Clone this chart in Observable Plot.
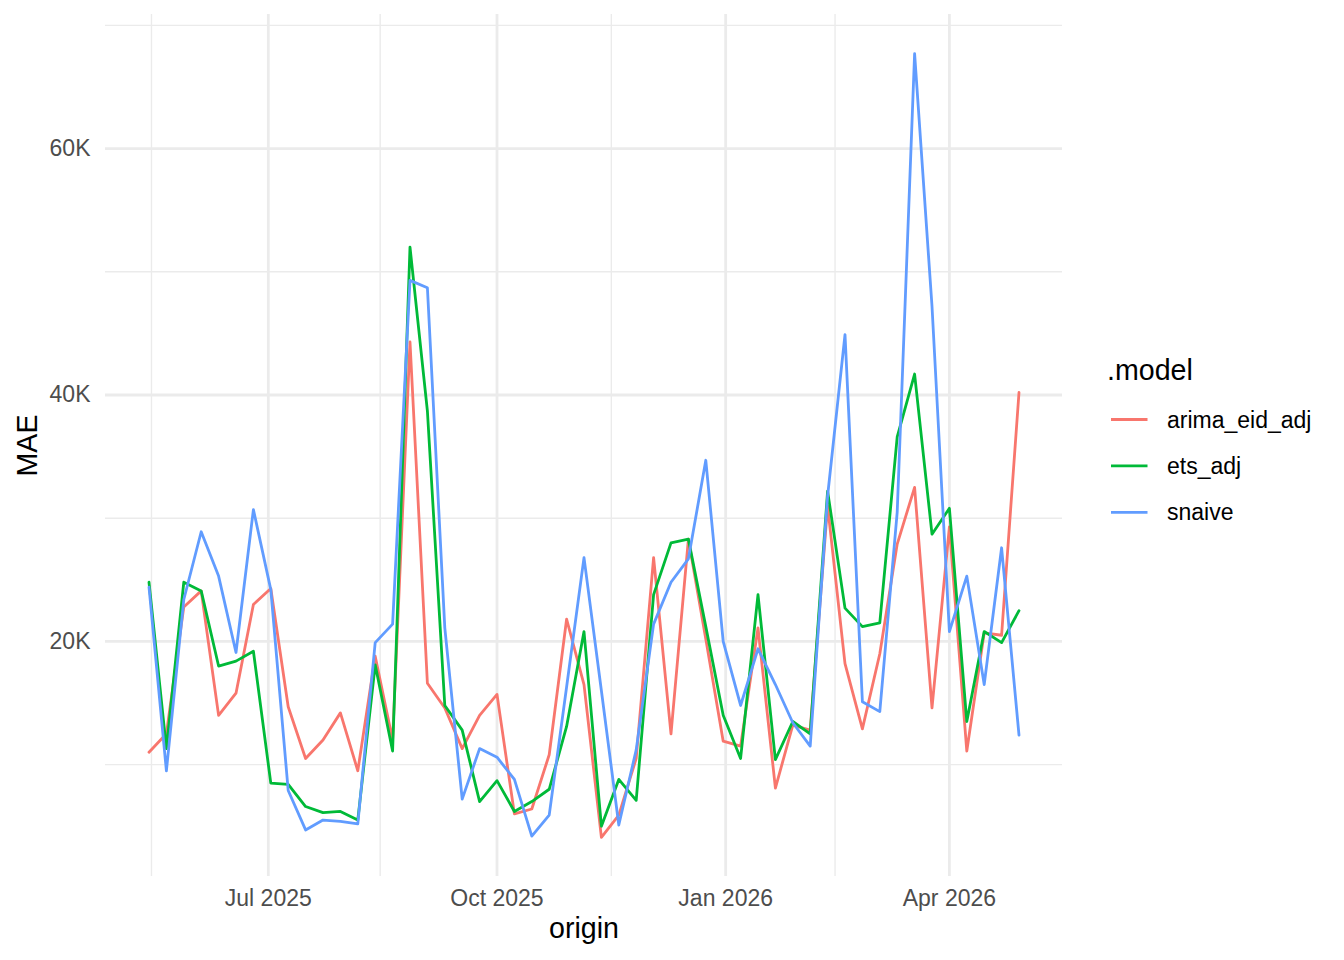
<!DOCTYPE html>
<html><head><meta charset="utf-8">
<script src="https://cdn.jsdelivr.net/npm/d3@7"></script>
<script src="https://cdn.jsdelivr.net/npm/@observablehq/plot@0.6"></script>
<style>
body{margin:0;background:#fff;font-family:"Liberation Sans",Arial,Helvetica,sans-serif;}
#wrap{position:relative;width:1344px;height:960px;background:#fff;}
</style></head><body><div id="wrap"></div>
<script>
const origins = [
  "2025-05-14","2025-05-21","2025-05-28","2025-06-04","2025-06-11","2025-06-18","2025-06-25",
  "2025-07-02","2025-07-09","2025-07-16","2025-07-23","2025-07-30","2025-08-06","2025-08-13",
  "2025-08-20","2025-08-27","2025-09-03","2025-09-10","2025-09-17","2025-09-24","2025-10-01",
  "2025-10-08","2025-10-15","2025-10-22","2025-10-29","2025-11-05","2025-11-12","2025-11-19",
  "2025-11-26","2025-12-03","2025-12-10","2025-12-17","2025-12-24","2025-12-31","2026-01-07",
  "2026-01-14","2026-01-21","2026-01-28","2026-02-04","2026-02-11","2026-02-18","2026-02-25",
  "2026-03-04","2026-03-11","2026-03-18","2026-03-25","2026-04-01","2026-04-08","2026-04-15",
  "2026-04-22","2026-04-29"
];
const models = ["arima_eid_adj", "ets_adj", "snaive"];
const arimaEidAdj = [
  11000,12500,22800,24100,14000,15800,23000,24300,14700,10500,12000,14200,9500,18800,12000,
  44300,16600,14600,11300,14000,15700,6000,6400,10800,21800,16500,4100,5900,10500,26800,
  12500,28300,20200,11900,11500,21100,8100,13200,12800,31000,18200,12900,19000,27900,32500,
  14600,29300,11100,20700,20500,40200
];
const etsAdj = [
  24800,11300,24800,24100,18000,18400,19200,8500,8400,6600,6100,6200,5500,18100,11100,
  52000,38700,14800,12800,7000,8700,6200,7000,8000,13100,20800,5000,8800,7100,23800,
  28000,28300,21200,14000,10500,23800,10400,13500,12500,32200,22700,21200,21500,36600,41700,
  28700,30800,13500,20800,19900,22500
];
const snaive = [
  24400,9500,23400,28900,25300,19100,30700,24200,7900,4700,5500,5400,5200,19900,21400,
  49300,48700,21100,7200,11300,10600,8800,4200,5900,16300,26800,16000,5100,11200,21400,
  24800,26700,34700,20000,14800,19400,16500,13400,11500,31800,44900,15100,14300,30500,67700,
  47200,20800,25300,16500,27600,12400
];
const colors = ["#F8766D", "#00BA38", "#619CFF"];
const xMajor = ["2025-07-01", "2025-10-01", "2026-01-01", "2026-04-01"];
const xMinor = ["2025-05-15", "2025-08-15", "2025-11-16", "2026-02-14"];
const yMajor = [20000, 40000, 60000];
const yMinor = [10000, 30000, 50000, 70000];

const parse = d3.utcParse("%Y-%m-%d");
const series = [arimaEidAdj, etsAdj, snaive];
const data = models.flatMap((m, i) => origins.map((o, j) => ({model: m, origin: parse(o), MAE: series[i][j]})));
const expand = ([a, b]) => { const d = (b - a) * 0.05; return [a - d, b + d]; };
const xd = expand(d3.extent(data, d => +d.origin)).map(t => new Date(t));
const yd = expand(d3.extent(data, d => d.MAE));
const font = '"Liberation Sans", Arial, Helvetica, sans-serif';
const grid = "#EBEBEB";

const plot = Plot.plot({
  width: 1344, height: 960,
  marginLeft: 105, marginRight: 282, marginTop: 14, marginBottom: 84,
  style: {fontFamily: font, background: "#fff", overflow: "visible"},
  x: {type: "utc", domain: xd},
  y: {domain: yd},
  color: {domain: models, range: colors},
  marks: [
    Plot.gridY(yMinor, {stroke: grid, strokeOpacity: 1, strokeWidth: 1.4}),
    Plot.gridY(yMajor, {stroke: grid, strokeOpacity: 1, strokeWidth: 2.8}),
    Plot.gridX(xMinor.map(parse), {stroke: grid, strokeOpacity: 1, strokeWidth: 1.4}),
    Plot.gridX(xMajor.map(parse), {stroke: grid, strokeOpacity: 1, strokeWidth: 2.8}),
    Plot.axisY(yMajor, {tickSize: 0, tickPadding: 15, fontSize: 23, color: "#4D4D4D", label: null, tickFormat: d => d / 1000 + "K"}),
    Plot.axisX(xMajor.map(parse), {tickSize: 0, tickPadding: 13, fontSize: 23, color: "#4D4D4D", label: null, tickFormat: d3.utcFormat("%b %Y")}),
    Plot.lineY(data, {x: "origin", y: "MAE", stroke: "model", z: "model", strokeWidth: 2.8}),
    Plot.text(["MAE"], {frameAnchor: "left", textAnchor: "middle", lineAnchor: "middle", dx: -78, rotate: -90, fontSize: 28.6, fill: "#000", text: d => d}),
    Plot.text(["origin"], {frameAnchor: "bottom", textAnchor: "middle", lineAnchor: "middle", dy: 52, fontSize: 28.6, fill: "#000", text: d => d})
  ]
});
document.getElementById("wrap").appendChild(plot);

// legend
const leg = d3.select("#wrap").append("svg")
  .attr("width", 250).attr("height", 200)
  .style("position", "absolute").style("left", "1090px").style("top", "340px")
  .style("font-family", font);
leg.append("text").attr("x", 17).attr("y", 40).attr("font-size", 28.6).attr("fill", "#000").text(".model");
models.forEach((m, i) => {
  const cy = 79.5 + i * 46.4;
  leg.append("line").attr("x1", 21).attr("x2", 57.5).attr("y1", cy).attr("y2", cy)
    .attr("stroke", colors[i]).attr("stroke-width", 2.8);
  leg.append("text").attr("x", 77).attr("y", cy).attr("dy", "0.35em")
    .attr("font-size", 23).attr("fill", "#000").text(m);
});
</script></body></html>
